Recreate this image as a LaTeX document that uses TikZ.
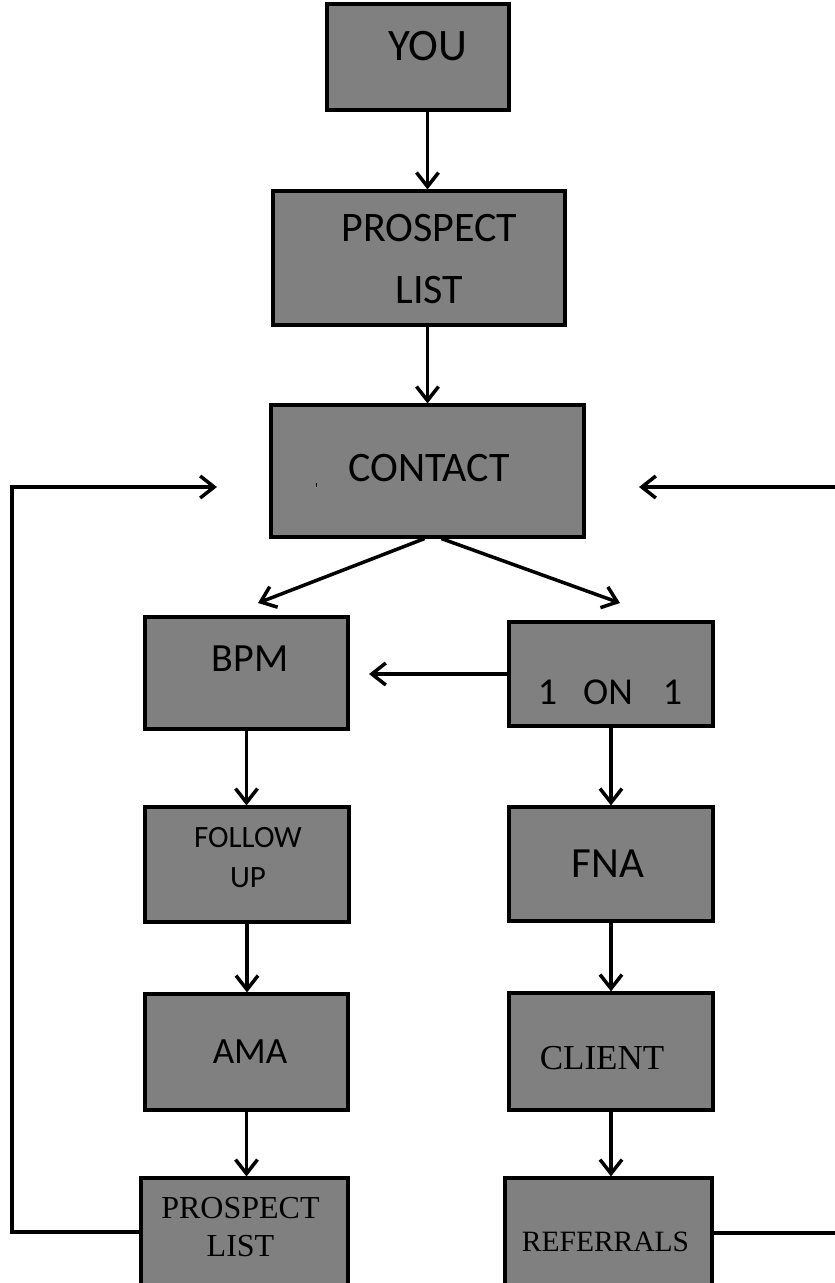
\documentclass[tikz,border=0pt]{standalone}
\usepackage{fontspec}
\setmainfont{Carlito}
\newfontfamily\serifx{Liberation Serif}
\usetikzlibrary{arrows.meta}
\definecolor{boxgray}{RGB}{128,128,128}
\begin{document}
\begin{tikzpicture}[x=1pt,y=-1pt,
  box/.style={draw=black, line width=3.2pt, fill=boxgray, inner sep=0pt},
  lbl/.style={inner sep=0pt, align=center, text=black},
  arr/.style={line width=3.5pt, -{Straight Barb[length=14pt,width=22pt]}},
  ln/.style={line width=3.5pt}]
\useasboundingbox (0,0) rectangle (835,1283);
% boxes
\node[box, minimum width=182pt, minimum height=106pt] (you) at (418,57) {};
\node[box, minimum width=292pt, minimum height=134pt] (pl1) at (419,258) {};
\node[box, minimum width=313pt, minimum height=132pt] (contact) at (427.5,471) {};
\node[box, minimum width=203pt, minimum height=112pt] (bpm) at (246.5,673) {};
\node[box, minimum width=204pt, minimum height=104pt] (oneon) at (611,674) {};
\node[box, minimum width=204pt, minimum height=115pt] (follow) at (247,864.5) {};
\node[box, minimum width=204pt, minimum height=114pt] (fna) at (611,864) {};
\node[box, minimum width=203pt, minimum height=116pt] (ama) at (246.5,1052) {};
\node[box, minimum width=204pt, minimum height=117pt] (client) at (611,1051.5) {};
\node[box, minimum width=207pt, minimum height=108pt] (pl2) at (244.5,1232) {};
\node[box, minimum width=207pt, minimum height=110pt] (refs) at (608.5,1233) {};
% small mark in contact box
\fill[black] (315.5,483) rectangle (317,487);
% labels
\node[lbl, font=\fontsize{45pt}{54pt}\selectfont] (youT) at (428,46) {YOU};
\node[lbl, font=\fontsize{42pt}{62pt}\selectfont] (pl1T) at (429.5,259.5) {PROSPECT\\LIST};
\node[lbl, font=\fontsize{42pt}{50pt}\selectfont] (contactT) at (429,468) {CONTACT};
\node[lbl, font=\fontsize{40pt}{48pt}\selectfont] (bpmT) at (250,659) {BPM};
\node[lbl, font=\fontsize{38pt}{46pt}\selectfont] (oneonT) at (610,692) {1\hspace{26pt}ON\hspace{30pt}1};
\node[lbl, font=\fontsize{31pt}{40pt}\selectfont] (followT) at (248,858) {FOLLOW\\UP};
\node[lbl, font=\fontsize{43pt}{50pt}\selectfont] (fnaT) at (608,864) {FNA};
\node[lbl, font=\fontsize{37pt}{44pt}\selectfont] (amaT) at (250,1052) {AMA};
\node[lbl, font=\serifx\fontsize{35pt}{42pt}\selectfont] (clientT) at (602,1058) {CLIENT};
\node[lbl, font=\serifx\fontsize{32pt}{38pt}\selectfont] (pl2T) at (240.5,1227) {PROSPECT\\LIST};
\node[lbl, font=\serifx\fontsize{29.5pt}{36pt}\selectfont] (refsT) at (605.5,1242) {REFERRALS};
% free ends
\coordinate (tipL) at (258,603);
\coordinate (tipR) at (620,603);
\coordinate (tipH) at (369,674);
\coordinate (lc) at (12,487);
\coordinate (lt) at (217,487);
\coordinate (rc) at (842,487);
\coordinate (rt) at (639,487);
% connectors
\draw[arr] (you.south -| contact.north) -- (pl1.north -| contact.north);
\draw[arr] (pl1.south -| contact.north) -- (contact.north);
\draw[arr] ([xshift=-3pt]contact.south) -- (tipL);
\draw[arr] ([xshift=14pt]contact.south) -- (tipR);
\draw[arr] (oneon.west) -- (tipH);
\draw[arr] (bpm.south) -- (bpm.south |- follow.north);
\draw[arr] (follow.south) -- (follow.south |- ama.north);
\draw[arr] (ama.south) -- (ama.south |- pl2.north);
\draw[arr] (oneon.south) -- (oneon.south |- fna.north);
\draw[arr] (fna.south) -- (fna.south |- client.north);
\draw[arr] (client.south) -- (client.south |- refs.north);
\draw[arr] (pl2.west) -| (lc) -- (lt);
\draw[arr] (refs.east) -| (rc) -- (rt);
\end{tikzpicture}
\end{document}
